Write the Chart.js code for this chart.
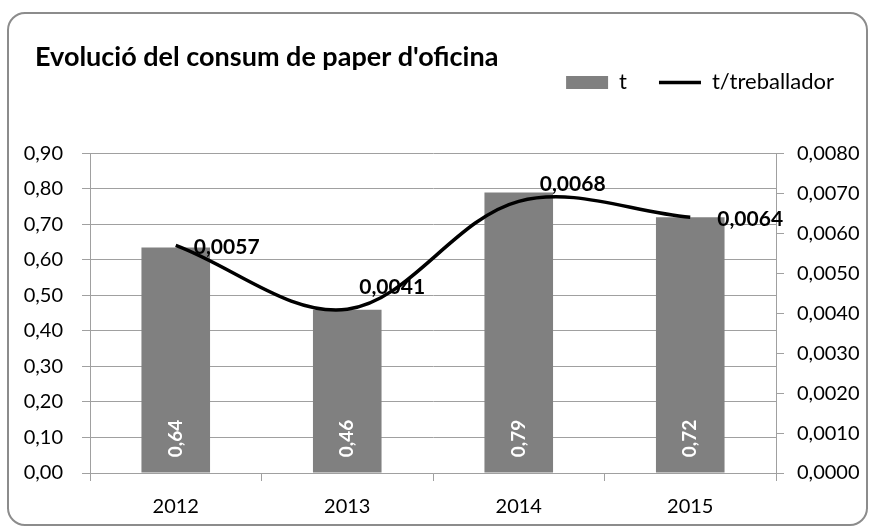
<!DOCTYPE html>
<html>
<head>
<meta charset="utf-8">
<script src="https://cdn.jsdelivr.net/npm/chart.js@4.4.0/dist/chart.umd.min.js"></script>
<style>
    html, body { margin: 0; padding: 0; background: #fff; }
    #wrap { position: relative; width: 872px; height: 527px; overflow: hidden; }
    #frame {
        position: absolute; left: 7px; top: 12px; width: 861px; height: 514px;
        border: 2px solid #8c8c8c; border-radius: 18px; box-sizing: border-box;
    }
    #paperChart { position: absolute; left: 0; top: 0; }
</style>
</head>
<body>
<div id="wrap">
    <div id="frame"></div>
    <canvas id="paperChart" width="872" height="527"></canvas>
</div>
<script>
    // ---- data ----
    var years = ['2012', '2013', '2014', '2015'];
    var tonnes = [0.635, 0.46, 0.79, 0.72];          // t (bars, left axis)
    var perWorker = [0.0057, 0.0041, 0.0068, 0.0064]; // t/treballador (line, right axis)

    var tMax = 0.9, tStep = 0.1;
    var wMax = 0.008, wStep = 0.001;

    // where the line value labels sit relative to their point (px)
    var lineLabelNudge = [[18, 2], [12, -22], [21, -17], [27, 2]];

    var FONT = 'Lato, "Open Sans", sans-serif';
    var GRID = '#a0a0a0';

    function comma(v, d) {
        return v.toFixed(d).replace('.', ',');
    }

    // value labels: rotated white text in the bars, bold text next to the line points
    var valueLabels = {
        id: 'valueLabels',
        afterLayout: function (chart) {
            // title sits a bit further right than the axis labels allow for
            if (chart.titleBlock) {
                chart.titleBlock.left += 15;
                chart.titleBlock.right += 15;
            }
        },
        afterDatasetsDraw: function (chart) {
            var ctx = chart.ctx;
            var bars = chart.getDatasetMeta(0).data;
            var pts = chart.getDatasetMeta(1).data;

            ctx.save();
            ctx.font = 'bold 19px ' + FONT;
            ctx.fillStyle = '#ffffff';
            ctx.textAlign = 'center';
            ctx.textBaseline = 'middle';
            for (var i = 0; i < bars.length; i++) {
                ctx.save();
                ctx.translate(bars[i].x, bars[i].base - 34);
                ctx.rotate(-Math.PI / 2);
                ctx.fillText(comma(tonnes[i], 2), 0, 0);
                ctx.restore();
            }

            ctx.font = 'bold 21px ' + FONT;
            ctx.fillStyle = '#000000';
            ctx.textAlign = 'left';
            for (var j = 0; j < pts.length; j++) {
                ctx.fillText(comma(perWorker[j], 4),
                    pts[j].x + lineLabelNudge[j][0], pts[j].y + lineLabelNudge[j][1]);
            }
            ctx.restore();
        }
    };

    var ctx = document.getElementById('paperChart').getContext('2d');

    new Chart(ctx, {
        type: 'bar',
        data: {
            labels: years,
            datasets: [{
                type: 'bar',
                label: 't',
                data: tonnes,
                backgroundColor: '#808080',
                borderWidth: 0,
                barPercentage: 0.4,
                categoryPercentage: 1,
                xAxisID: 'x',
                yAxisID: 'y',
                order: 2
            }, {
                type: 'line',
                label: 't/treballador',
                data: perWorker,
                borderColor: '#000000',
                backgroundColor: '#000000',
                borderWidth: 3.5,
                tension: 0.35,
                pointRadius: 0,
                pointStyle: 'line',
                fill: false,
                xAxisID: 'x',
                yAxisID: 'y1',
                order: 1
            }]
        },
        options: {
            responsive: false,
            animation: false,
            devicePixelRatio: 1,
            layout: { padding: { top: 0, left: 20, right: 6, bottom: 0 } },
            plugins: {
                tooltip: { enabled: false },
                title: {
                    display: true,
                    text: "Evolució del consum de paper d'oficina",
                    align: 'start',
                    color: '#000000',
                    font: { family: FONT, size: 27, weight: 'bold' },
                    padding: { top: 41, bottom: -34 }
                },
                legend: {
                    display: true,
                    position: 'top',
                    align: 'end',
                    labels: {
                        color: '#000000',
                        font: { family: FONT, size: 22 },
                        usePointStyle: true,
                        pointStyleWidth: 42,
                        boxHeight: 13,
                        padding: 32,
                        sort: function (a, b) { return a.datasetIndex - b.datasetIndex; },
                        generateLabels: function (chart) {
                            var items = Chart.defaults.plugins.legend.labels.generateLabels(chart);
                            items.forEach(function (it) {
                                it.pointStyle = it.datasetIndex === 0 ? 'rect' : 'line';
                            });
                            return items;
                        }
                    }
                }
            },
            scales: {
                x: {
                    position: 'bottom',
                    offset: true,
                    grid: { display: true, offset: true, drawOnChartArea: false, drawTicks: true, tickLength: 8, color: GRID },
                    border: { display: true, color: GRID },
                    ticks: { color: '#000000', font: { family: FONT, size: 20 }, padding: 14 },
                    afterFit: function (s) { s.height = 54; }
                },
                gap: {
                    axis: 'x',
                    type: 'category',
                    position: 'top',
                    grid: { display: false, drawTicks: false },
                    border: { display: false },
                    ticks: { display: false },
                    afterFit: function (s) { s.height = 50; }
                },
                y: {
                    position: 'left',
                    min: 0,
                    max: tMax,
                    ticks: {
                        stepSize: tStep,
                        color: '#000000',
                        font: { family: FONT, size: 20 },
                        padding: 19,
                        callback: function (v) { return comma(v, 2); }
                    },
                    grid: { color: GRID, tickLength: 8 },
                    border: { display: true, color: GRID },
                    afterFit: function (s) { s.width = 70; }
                },
                y1: {
                    position: 'right',
                    min: 0,
                    max: wMax,
                    ticks: {
                        stepSize: wStep,
                        color: '#000000',
                        font: { family: FONT, size: 20 },
                        padding: 13,
                        callback: function (v) { return comma(v, 4); }
                    },
                    grid: { drawOnChartArea: false, color: GRID, tickLength: 8 },
                    border: { display: true, color: GRID },
                    afterFit: function (s) { s.width = 90; }
                }
            }
        },
        plugins: [valueLabels]
    });
</script>
</body>
</html>
